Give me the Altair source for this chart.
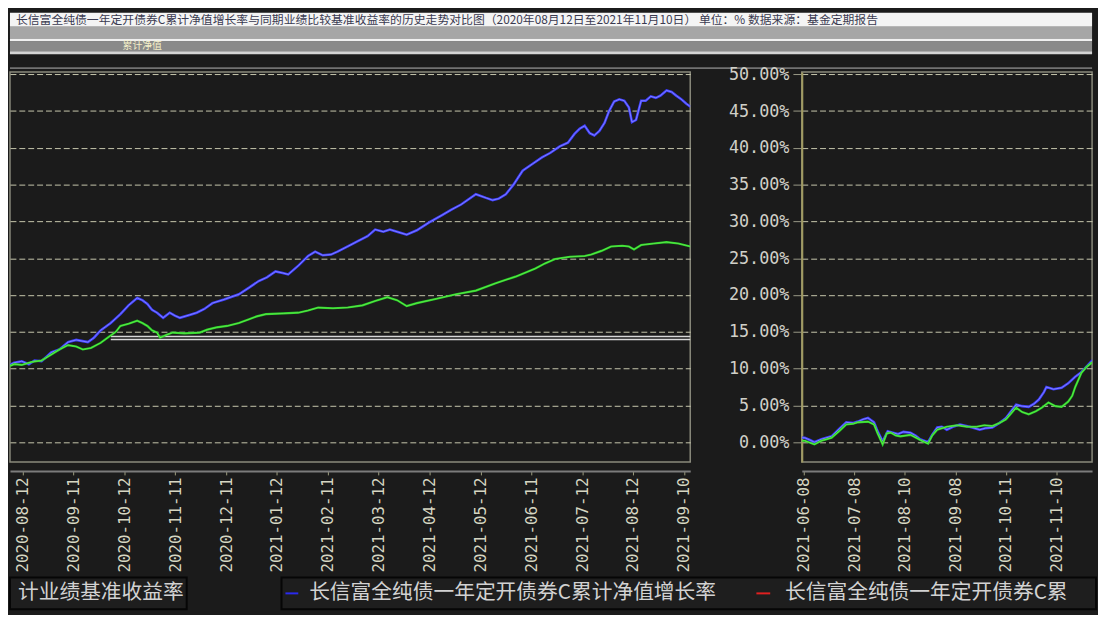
import json
import altair as alt
import pandas as pd

# ---------------- data ----------------
Y_TICK_VALUES = [0, 5, 10, 15, 20, 25, 30, 35, 40, 45, 50]
Y_DOMAIN = [-2.7, 50.3]

LEFT_DATE_LABELS = ["2020-08-12", "2020-09-11", "2020-10-12", "2020-11-11", "2020-12-11",
                    "2021-01-12", "2021-02-11", "2021-03-12", "2021-04-12", "2021-05-12",
                    "2021-06-11", "2021-07-12", "2021-08-12", "2021-09-10"]
LEFT_X_DOMAIN = [-0.252, 13.126]
RIGHT_DATE_LABELS = ["2021-06-08", "2021-07-08", "2021-08-10", "2021-09-08", "2021-10-11", "2021-11-10"]
RIGHT_X_DOMAIN = [-0.039, 5.703]

# left panel, x in tick units (months), values in %
left_blue_t = [-0.31, -0.17, -0.02, 0.12, 0.23, 0.37, 0.56, 0.72, 0.89, 1.05, 1.28, 1.40, 1.53, 1.73,
               1.92, 2.08, 2.25, 2.35, 2.45, 2.54, 2.64, 2.76, 2.89, 2.99, 3.09, 3.28, 3.42, 3.57,
               3.73, 3.96, 4.25, 4.45, 4.64, 4.80, 4.97, 5.11, 5.22, 5.42, 5.61, 5.75, 5.90, 6.06,
               6.19, 6.39, 6.58, 6.78, 6.93, 7.09, 7.22, 7.36, 7.55, 7.75, 8.00, 8.23, 8.43, 8.62,
               8.91, 9.11, 9.24, 9.36, 9.50, 9.65, 9.83, 10.02, 10.21, 10.37, 10.56, 10.72, 10.85,
               10.95, 11.05, 11.15, 11.24, 11.34, 11.44, 11.53, 11.63, 11.73, 11.83, 11.92, 11.98,
               12.06, 12.16, 12.25, 12.35, 12.45, 12.54, 12.66, 12.76, 12.85, 12.95, 13.05, 13.13]
left_blue_v = [10.3, 10.8, 11.0, 10.6, 11.1, 11.0, 12.2, 12.6, 13.6, 13.9, 13.6, 14.2, 15.2, 16.2,
               17.4, 18.6, 19.6, 19.3, 18.8, 18.0, 17.6, 16.9, 17.6, 17.2, 16.9, 17.3, 17.6, 18.1,
               18.9, 19.4, 20.1, 21.0, 21.9, 22.4, 23.2, 23.0, 22.8, 24.0, 25.3, 25.9, 25.4, 25.5,
               25.9, 26.6, 27.3, 28.0, 28.9, 28.6, 28.9, 28.6, 28.2, 28.8, 29.9, 30.8, 31.6, 32.3,
               33.7, 33.2, 32.9, 33.1, 33.7, 35.0, 36.9, 37.8, 38.7, 39.3, 40.2, 40.7, 41.9,
               42.6, 43.0, 42.0, 41.7, 42.3, 43.4, 45.0, 46.3, 46.6, 46.4, 45.5, 43.5,
               43.8, 46.4, 46.4, 47.0, 46.8, 47.1, 47.8, 47.6, 47.1, 46.6, 46.0, 45.6]

left_green_t = [-0.31, -0.17, -0.02, 0.17, 0.37, 0.56, 0.72, 0.89, 1.05, 1.18, 1.34, 1.53, 1.67, 1.83,
                1.92, 2.08, 2.25, 2.35, 2.45, 2.54, 2.64, 2.70, 2.83, 2.95, 3.18, 3.48, 3.63, 3.81,
                4.02, 4.25, 4.45, 4.60, 4.78, 5.13, 5.42, 5.61, 5.81, 6.10, 6.39, 6.68, 6.93, 7.17,
                7.36, 7.55, 7.75, 8.14, 8.52, 8.91, 9.30, 9.69, 10.08, 10.27, 10.47, 10.76, 11.05,
                11.18, 11.38, 11.57, 11.79, 11.92, 12.02, 12.16, 12.41, 12.66, 12.89, 13.13]
left_green_v = [10.2, 10.6, 10.5, 10.9, 11.1, 11.9, 12.6, 13.2, 13.0, 12.6, 12.8, 13.5, 14.2, 15.0,
                15.8, 16.1, 16.5, 16.2, 15.8, 15.2, 14.9, 14.2, 14.6, 14.9, 14.8, 14.9, 15.3, 15.6,
                15.8, 16.2, 16.7, 17.1, 17.4, 17.5, 17.6, 17.9, 18.3, 18.2, 18.3, 18.6, 19.2, 19.7,
                19.3, 18.5, 18.9, 19.5, 20.1, 20.6, 21.6, 22.5, 23.6, 24.3, 24.9, 25.2, 25.3,
                25.5, 26.0, 26.6, 26.7, 26.6, 26.2, 26.8, 27.0, 27.2, 27.0, 26.6]

# right panel
right_blue_t = [-0.04, 0.02, 0.12, 0.21, 0.35, 0.55, 0.70, 0.84, 0.98, 1.07, 1.17, 1.27, 1.39, 1.46,
                1.56, 1.66, 1.76, 1.86, 1.97, 2.11, 2.21, 2.30, 2.46, 2.54, 2.64, 2.73, 2.83, 2.95,
                3.09, 3.28, 3.48, 3.59, 3.73, 3.87, 4.00, 4.10, 4.20, 4.32, 4.45, 4.55, 4.65, 4.75,
                4.80, 4.94, 5.10, 5.23, 5.37, 5.47, 5.57, 5.68, 5.74]
right_blue_v = [0.6, 0.6, 0.3, 0.0, 0.4, 0.8, 1.8, 2.7, 2.6, 2.8, 3.1, 3.3, 2.7, 1.5,
                0.1, 1.5, 1.3, 1.1, 1.4, 1.3, 0.9, 0.4, 0.0, 1.0, 2.0, 2.1, 1.7, 2.1,
                2.4, 2.1, 1.7, 1.9, 2.0, 2.6, 3.3, 4.2, 5.1, 4.9, 4.8, 5.2, 5.8, 6.8,
                7.5, 7.2, 7.4, 8.0, 8.9, 9.4, 10.1, 10.9, 11.3]
right_green_t = [-0.04, 0.02, 0.21, 0.35, 0.55, 0.70, 0.84, 0.98, 1.07, 1.27, 1.39, 1.46, 1.56, 1.64,
                 1.72, 1.82, 1.91, 2.11, 2.25, 2.36, 2.46, 2.54, 2.64, 2.83, 3.03, 3.22, 3.42, 3.57,
                 3.73, 3.87, 4.00, 4.10, 4.20, 4.32, 4.45, 4.59, 4.71, 4.84, 4.98, 5.10, 5.23, 5.31,
                 5.37, 5.49, 5.59, 5.68, 5.74]
right_green_v = [0.2, 0.2, -0.3, 0.2, 0.6, 1.5, 2.4, 2.5, 2.7, 2.8, 2.4, 1.2, -0.3, 1.2,
                 1.3, 0.9, 0.8, 1.0, 0.5, 0.1, -0.2, 0.9, 1.7, 2.1, 2.3, 2.1, 2.1, 2.3,
                 2.2, 2.6, 3.1, 3.9, 4.7, 4.1, 3.8, 4.2, 4.7, 5.4, 4.9, 4.8, 5.5, 6.3,
                 7.5, 9.4, 10.2, 10.7, 11.0]

# stray double white rule seen in the left panel
ARTIFACT_RULE_LEVELS = [14.36, 13.96]
ARTIFACT_RULE_SPAN = [1.73, 13.126]

HEADER_TITLE = ("长信富全纯债一年定开债券C累计净值增长率与同期业绩比较基准收益率的历史走势对比图"
                "（2020年08月12日至2021年11月10日）  单位：%   数据来源：基金定期报告")
HEADER_SUB = "累计净值"
LEGEND_LEFT = "长信富全纯债一年定开债券C累计业绩基准收益率"
LEGEND_SERIES = ["长信富全纯债一年定开债券C累计净值增长率",
                 "长信富全纯债一年定开债券C累计业绩基准收益率"]

# ---------------- styles ----------------
BG = "#1b1b1b"
BLUE = "#3c3cff"
BLUE_HI = "#a4a4ff"
GREEN = "#26d626"
GREEN_HI = "#9af070"
GRID = "#c8c8ae"
CJK = "Noto Sans CJK SC"
MONO = "DejaVu Sans Mono"

LEFT_W, RIGHT_W, PANEL_H = 689, 294, 395
GAP = 113
TOTAL_W = LEFT_W + GAP + RIGHT_W

one = alt.Data(values=[{}])


def x_axis(labels):
    return alt.Axis(values=list(range(len(labels))),
                    labelExpr=json.dumps(labels) + "[datum.value]",
                    labelAngle=270, labelFont=MONO, labelFontSize=16, labelColor="#d6d6c2",
                    labelPadding=2, tickSize=4, tickColor="#a0a080", domainColor="#7c7c7c",
                    domainWidth=2, offset=9, grid=False, title=None, labelOverlap=False,
                    labelFlush=False, labelBound=False)


grid_axis_hidden = alt.Axis(values=Y_TICK_VALUES, tickCount=11, grid=True, gridColor=GRID,
                            gridDash=[6, 3], gridWidth=1, labels=False, ticks=False,
                            domain=False, title=None, labelOverlap=False)
grid_axis_right = alt.Axis(values=Y_TICK_VALUES, tickCount=11, grid=True, gridColor=GRID,
                           gridDash=[6, 3], gridWidth=1,
                           labelExpr="format(datum.value, '.2f') + '%'",
                           labelFont=MONO, labelFontSize=17, labelColor="#d0d0c8",
                           tickSize=9, tickColor="#9a9a88", labelPadding=4,
                           domainColor="#a09a60", domainWidth=2, title=None,
                           labelOverlap=False)


def make_encs(domain, labels, yaxis, xf="t", yf="v"):
    xs = alt.Scale(domain=domain, nice=False, zero=False)
    ys = alt.Scale(domain=Y_DOMAIN, nice=False, zero=False)
    return (alt.X(f"{xf}:Q", scale=xs, axis=x_axis(labels)),
            alt.Y(f"{yf}:Q", scale=ys, axis=yaxis))


def lines(t_b, v_b, t_g, v_g, domain, labels, yaxis):
    dfb = pd.DataFrame({"t": t_b, "v": v_b})
    dfg = pd.DataFrame({"t": t_g, "v": v_g})
    x, y = make_encs(domain, labels, yaxis)
    return [
        alt.Chart(dfb).mark_line(color=BLUE, strokeWidth=2.6, clip=True).encode(x=x, y=y),
        alt.Chart(dfb).mark_line(color=BLUE_HI, strokeWidth=0.9, opacity=0.75, clip=True).encode(x=x, y=y),
        alt.Chart(dfg).mark_line(color=GREEN, strokeWidth=2.2, clip=True).encode(x=x, y=y),
        alt.Chart(dfg).mark_line(color=GREEN_HI, strokeWidth=0.8, opacity=0.6, clip=True).encode(x=x, y=y),
    ]


def band(x0, x1, y0, y1, color, **kw):
    return alt.Chart(one).mark_rect(color=color, **kw).encode(
        x=alt.value(x0), x2=alt.value(x1), y=alt.value(y0), y2=alt.value(y1))


def hrule(x0, x1, y, color, w):
    return alt.Chart(one).mark_rule(color=color, strokeWidth=w).encode(
        x=alt.value(x0), x2=alt.value(x1), y=alt.value(y))


def label(x, y, text, **kw):
    return alt.Chart(one).mark_text(**kw).encode(x=alt.value(x), y=alt.value(y), text=alt.value(text))


# header (drawn in the left view, above its plot area)
header = [
    band(0, TOTAL_W, -60, -46, "#f4f4f4"),
    label(6, -53, HEADER_TITLE, align="left", baseline="middle", font=CJK, fontSize=12,
          color="#3a3a50", limit=TOTAL_W - 10, ellipsis=" "),
    band(0, TOTAL_W, -46, -34, "#a6a6a6"),
    band(0, TOTAL_W, -34, -31, "#f0f0f0"),
    band(0, TOTAL_W, -31, -21, "#8a8a8a"),
    label(114, -26, HEADER_SUB, align="left", baseline="middle", font=CJK, fontSize=10,
          color="#f4f0c8"),
    band(0, TOTAL_W, -21, -18, "#d4d4d4"),
    hrule(0, TOTAL_W, -4, "#727272", 2),
]

# legend (drawn in the left view, below its plot area)
LY0, LY1 = 512, 544
LYC = (LY0 + LY1) / 2
legend = [
    band(0, 179, LY0, LY1, "#1e1e1e", stroke="#060606", strokeWidth=2),
    band(275, TOTAL_W + 4, LY0, LY1, "#1e1e1e", stroke="#060606", strokeWidth=2),
    label(176, LYC, LEGEND_LEFT, align="right", baseline="middle", font=CJK, fontSize=21,
          color="#d2d2d2", limit=176, ellipsis=" ", dir="rtl"),
    hrule(279, 292, LYC, "#2a2aee", 2),
    label(303, LYC, LEGEND_SERIES[0], align="left", baseline="middle", font=CJK, fontSize=21,
          color="#d2d2d2"),
    hrule(756, 770, LYC, "#e02020", 2),
    label(785, LYC, LEGEND_SERIES[1], align="left", baseline="middle", font=CJK, fontSize=21,
          color="#d2d2d2", limit=TOTAL_W - 787, ellipsis=" "),
]

left_layers = lines(left_blue_t, left_blue_v, left_green_t, left_green_v,
                    LEFT_X_DOMAIN, LEFT_DATE_LABELS, grid_axis_hidden)

# artifact rule
art_df = pd.DataFrame({"v": ARTIFACT_RULE_LEVELS, "t0": [ARTIFACT_RULE_SPAN[0]] * 2,
                       "t1": [ARTIFACT_RULE_SPAN[1]] * 2})
ax, ay = make_encs(LEFT_X_DOMAIN, LEFT_DATE_LABELS, grid_axis_hidden, xf="t0")
artifact = alt.Chart(art_df).mark_rule(color="#d8d8d8", strokeWidth=1.4).encode(
    x=ax, x2="t1:Q", y=ay)

left = alt.layer(*header, left_layers[0], artifact, *left_layers[1:], *legend).properties(
    width=LEFT_W, height=PANEL_H,
    view=alt.ViewBackground(stroke="#8a8a7c", strokeWidth=1.5))

right_layers = lines(right_blue_t, right_blue_v, right_green_t, right_green_v,
                     RIGHT_X_DOMAIN, RIGHT_DATE_LABELS, grid_axis_right)
right = alt.layer(*right_layers).properties(
    width=RIGHT_W, height=PANEL_H,
    view=alt.ViewBackground(stroke="#8a8a7c", strokeWidth=1.5))

chart = alt.hconcat(left, right, spacing=GAP, bounds="flush").configure(
    background=BG, padding=0).configure_view(stroke=None)

chart.save("out.html", embed_options={"renderer": "svg", "actions": False})
